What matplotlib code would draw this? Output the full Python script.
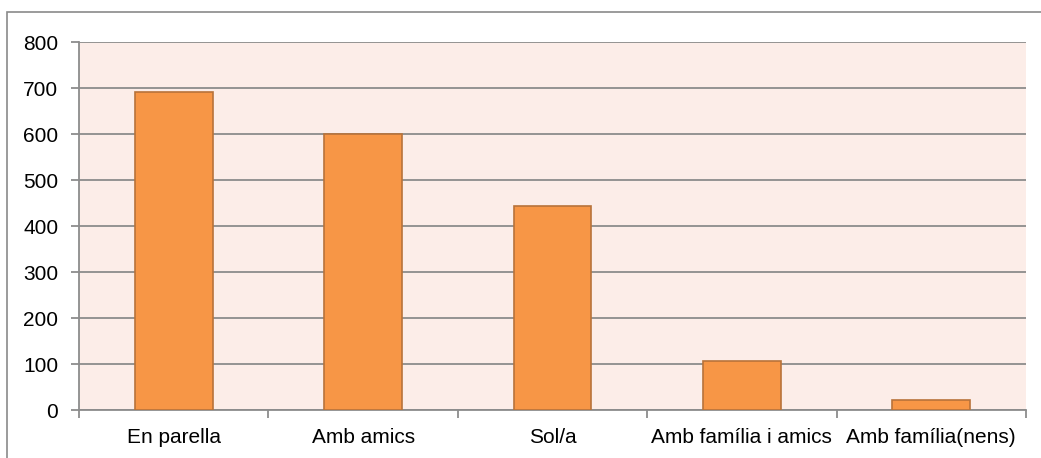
import numpy as np
import matplotlib.pyplot as plt
from matplotlib.patches import Rectangle

plt.rcParams['font.family'] = ['Liberation Sans', 'DejaVu Sans']

# dades: amb qui viatgen
categories = ['En parella', 'Amb amics', 'Sol/a', 'Amb família i amics', 'Amb família(nens)']
valors = [691, 600, 444, 106, 22]
yticks = [0, 100, 200, 300, 400, 500, 600, 700, 800]

fig = plt.figure(figsize=(10.41, 4.58), dpi=100)
ax = fig.add_axes([79/1041, 48/458, 947/1041, 368/458])

# marc exterior del gràfic
fig.patches.append(Rectangle((7/1041, -0.1), 1.1, (458 - 12)/458 + 0.1,
                             transform=fig.transFigure, fill=False,
                             edgecolor='#8a8a8a', linewidth=1.2))

ax.set_facecolor('#fcede8')
x = np.arange(len(categories))
ax.bar(x, valors, width=0.41, color='#f79646', edgecolor='#b8733a', linewidth=1.2, zorder=3)

ax.set_xlim(-0.5, len(categories) - 0.5)
ax.set_ylim(0, 800)
ax.set_yticks(yticks)
ax.yaxis.grid(True, color='#8c8c8c', linewidth=1.3, zorder=1)
ax.set_axisbelow(True)

# marques de l'eix x entre categories
ax.set_xticks(np.arange(-0.5, len(categories)), minor=False)
ax.set_xticklabels([])
ax.set_xticks(x, minor=True)
ax.set_xticklabels(categories, minor=True)
ax.tick_params(axis='x', which='minor', length=0, pad=13, labelsize=15)
ax.tick_params(axis='x', which='major', length=6, width=1.3, color='#8c8c8c')
ax.tick_params(axis='y', length=6, width=1.3, color='#8c8c8c', pad=9, labelsize=15)

for s in ['top', 'right']:
    ax.spines[s].set_visible(False)
for s in ['left', 'bottom']:
    ax.spines[s].set_color('#8c8c8c')
    ax.spines[s].set_linewidth(1.3)

fig.savefig('out.png', dpi=100)
